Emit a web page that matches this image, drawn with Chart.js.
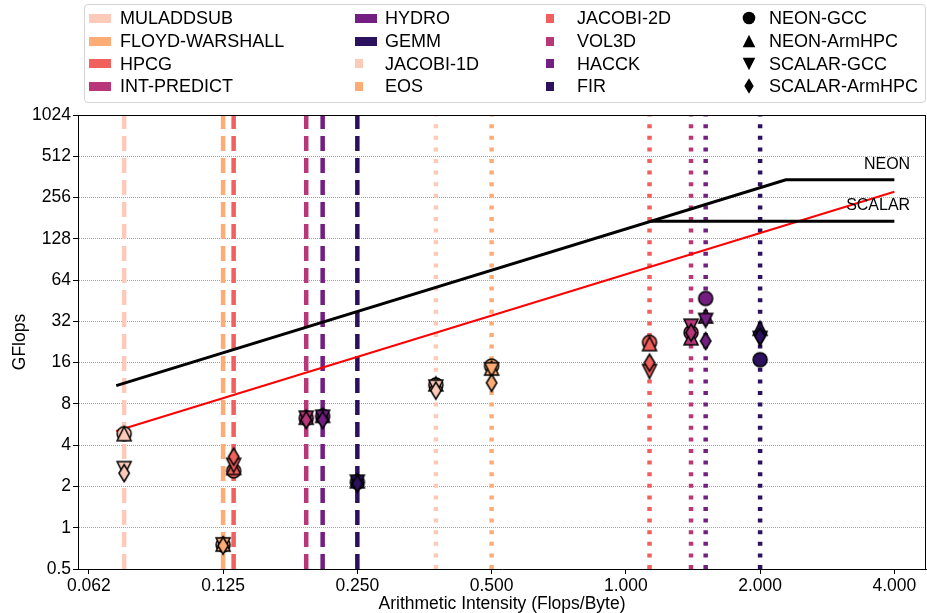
<!DOCTYPE html>
<html>
<head>
<meta charset="utf-8">
<script src="https://cdn.jsdelivr.net/npm/chart.js@4.4.1/dist/chart.umd.min.js"></script>
<style>
  body { margin: 0; background: #fff; }
  #wrap { position: relative; width: 927px; height: 613px; font-family: "Liberation Sans", Arial, Helvetica, sans-serif; }
  #legend { position: absolute; left: 84px; top: 4px; width: 842px; height: 99px; box-sizing: border-box;
            border: 1px solid #d4d4d4; border-radius: 4px; background: rgba(255,255,255,0.8); }
  .lg-text { position: absolute; font-size: 18px; line-height: 20px; height: 20px; white-space: nowrap; color: #000; }
  .lg-patch { position: absolute; }
  .lg-mark { position: absolute; }
</style>
</head>
<body>
<div id="wrap">
  <canvas id="roofline" width="927" height="613"></canvas>
  <div id="legend"></div>
</div>
<script>
// kernels, their arithmetic intensity (flops/byte) and colour
const kernels = ["MULADDSUB", "FLOYD-WARSHALL", "HPCG", "INT-PREDICT", "HYDRO", "GEMM",
                 "JACOBI-1D", "EOS", "JACOBI-2D", "VOL3D", "HACCK", "FIR"];
const intensity = [0.075, 0.125, 0.132, 0.192, 0.209, 0.25, 0.375, 0.5, 1.13, 1.4, 1.51, 2.0];
const kernelColors = ["#fccab8", "#feac76", "#f1605d", "#b73779", "#721f81", "#2c115f",
                      "#fccab8", "#feac76", "#f1605d", "#b73779", "#721f81", "#2c115f"];
const lineStyles = ["dashed", "dashed", "dashed", "dashed", "dashed", "dashed",
                    "dotted", "dotted", "dotted", "dotted", "dotted", "dotted"];

// measured GFlops per build
const variants = ["NEON-GCC", "NEON-ArmHPC", "SCALAR-GCC", "SCALAR-ArmHPC"];
const neonGcc   = [4.85, 0.75, 2.6, 6.3, 6.5, 2.15, 11.0, 15.1, 22.5, 26.5, 47, 16.8];
const neonArm   = [4.85, 0.76, 2.75, 6.4, 6.6, 2.2, 11.2, 14.6, 22, 24.3, 35, 28.5];
const scalarGcc = [2.7, 0.75, 2.85, 6.3, 6.4, 2.15, 10.6, 14.2, 13.8, 29.5, 32.5, 24];
const scalarArm = [2.5, 0.74, 3.3, 6.1, 6.1, 2.1, 10.0, 11.4, 16, 26.5, 23, 24.8];

// roofs: memory bandwidth (GB/s) and compute peak (GFlops)
const roofNames = ["NEON", "SCALAR"];
const roofBandwidth = [151, 70.5];
const roofPeak = [345, 172];
const aiStart = 0.072, aiEnd = 4;

const xTicks = [0.0625, 0.125, 0.25, 0.5, 1, 2, 4];
const xTickLabels = ["0.062", "0.125", "0.250", "0.500", "1.000", "2.000", "4.000"];
const yTicks = [0.5, 1, 2, 4, 8, 16, 32, 64, 128, 256, 512, 1024];
const yTickLabels = ["0.5", "1", "2", "4", "8", "16", "32", "64", "128", "256", "512", "1024"];

const FONT = '"Liberation Sans", Arial, Helvetica, sans-serif';
const shapes = ["circle", "up", "down", "diamond"];

function markerCanvas(shape, fill, s, edge) {
  const c = document.createElement("canvas");
  c.width = Math.ceil(22 * s); c.height = Math.ceil(24 * s);
  const g = c.getContext("2d");
  g.translate(c.width / 2, c.height / 2);
  g.beginPath();
  if (shape === "circle") {
    g.arc(0, 0, 7 * s, 0, Math.PI * 2);
  } else if (shape === "up") {
    g.moveTo(0, -7 * s); g.lineTo(7 * s, 7 * s); g.lineTo(-7 * s, 7 * s); g.closePath();
  } else if (shape === "down") {
    g.moveTo(0, 7 * s); g.lineTo(7 * s, -7 * s); g.lineTo(-7 * s, -7 * s); g.closePath();
  } else {
    g.moveTo(0, -8.5 * s); g.lineTo(5.2 * s, 0); g.lineTo(0, 8.5 * s); g.lineTo(-5.2 * s, 0); g.closePath();
  }
  g.fillStyle = fill;
  g.fill();
  if (edge) {
    g.lineWidth = 1.5;
    g.lineJoin = "miter";
    g.strokeStyle = "#000";
    g.stroke();
  }
  return c;
}

const datasets = [];

// marker datasets, diamonds drawn on top
const seriesValues = [neonGcc, neonArm, scalarGcc, scalarArm];
seriesValues.forEach((vals, v) => {
  datasets.push({
    label: variants[v],
    data: vals.map((y, i) => ({ x: intensity[i], y: y })),
    pointStyle: kernels.map((k, i) => markerCanvas(shapes[v], kernelColors[i], 1, true)),
    pointRadius: 7,
    showLine: false,
    order: 3 - v
  });
});

// rooflines
const ridge = roofPeak[0] / roofBandwidth[0];
datasets.push({
  label: "NEON roof",
  data: [{ x: aiStart, y: roofBandwidth[0] * aiStart }, { x: ridge, y: roofPeak[0] }, { x: aiEnd, y: roofPeak[0] }],
  showLine: true, borderColor: "#000", borderWidth: 3, pointRadius: 0, order: 4
});
datasets.push({
  label: "SCALAR peak",
  data: [{ x: roofPeak[1] / roofBandwidth[0], y: roofPeak[1] }, { x: aiEnd, y: roofPeak[1] }],
  showLine: true, borderColor: "#000", borderWidth: 3, pointRadius: 0, order: 4
});
datasets.push({
  label: "SCALAR bandwidth",
  data: [{ x: aiStart, y: roofBandwidth[1] * aiStart }, { x: aiEnd, y: roofBandwidth[1] * aiEnd }],
  showLine: true, borderColor: "#ff0000", borderWidth: 2, pointRadius: 0, order: 4
});

// one vertical line per kernel at its intensity
kernels.forEach((k, i) => {
  datasets.push({
    label: k,
    data: [{ x: intensity[i], y: yTicks[0] }, { x: intensity[i], y: yTicks[yTicks.length - 1] }],
    showLine: true,
    borderColor: kernelColors[i],
    borderWidth: 4.5,
    borderDash: lineStyles[i] === "dashed" ? [15, 7] : [4, 7.6],
    borderCapStyle: "butt",
    pointRadius: 0,
    order: 5
  });
});

const frame = {
  id: "frame",
  afterDatasetsDraw(chart) {
    const { ctx, chartArea: a, scales } = chart;
    ctx.save();
    ctx.strokeStyle = "#000";
    ctx.lineWidth = 1;
    ctx.beginPath();
    ctx.moveTo(a.left, Math.round(a.top) + 0.5);
    ctx.lineTo(a.right, Math.round(a.top) + 0.5);
    ctx.moveTo(Math.round(a.right) - 0.5, a.top);
    ctx.lineTo(Math.round(a.right) - 0.5, a.bottom);
    ctx.stroke();
    // roof names
    ctx.fillStyle = "#000";
    ctx.font = "16px " + FONT;
    ctx.textAlign = "right";
    ctx.textBaseline = "alphabetic";
    roofNames.forEach((name, r) => {
      ctx.fillText(name, scales.x.getPixelForValue(4.34), scales.y.getPixelForValue(roofPeak[r] * 1.2));
    });
    ctx.restore();
  }
};

new Chart(document.getElementById("roofline"), {
  type: "scatter",
  data: { datasets: datasets },
  options: {
    responsive: false,
    animation: false,
    layout: { autoPadding: false, padding: { top: 115, right: 1, bottom: 0, left: 0 } },
    plugins: { legend: { display: false }, tooltip: { enabled: false } },
    scales: {
      x: {
        type: "logarithmic",
        bounds: "data",
        min: 0.0591,
        max: 4.71,
        afterBuildTicks: (scale) => { scale.ticks = xTicks.map(v => ({ value: v })); },
        afterFit: (scale) => {
          scale.height = 44;
          scale.paddingLeft = 0;
          scale.paddingRight = 0;
        },
        ticks: {
          autoSkip: false, maxRotation: 0, padding: 2, color: "#000",
          font: { family: FONT, size: 17.5 },
          callback: (value, index) => xTickLabels[index]
        },
        grid: { drawOnChartArea: false, tickLength: 5, tickColor: "#000" },
        border: { color: "#000", width: 1 },
        title: {
          display: true, text: "Arithmetic Intensity (Flops/Byte)", color: "#000",
          font: { family: FONT, size: 17.5 }, padding: { top: 0, bottom: -2 }
        }
      },
      y: {
        type: "logarithmic",
        bounds: "data",
        min: 0.5,
        max: 1024,
        afterBuildTicks: (scale) => { scale.ticks = yTicks.map(v => ({ value: v })); },
        afterFit: (scale) => {
          scale.width = 78;
          scale.paddingTop = 0;
          scale.paddingBottom = 0;
        },
        ticks: {
          autoSkip: false, padding: 2, color: "#000",
          font: { family: FONT, size: 17.5 },
          callback: (value, index) => yTickLabels[index]
        },
        grid: { color: "rgba(0,0,0,0.45)", lineWidth: 0.8, tickLength: 5, tickColor: "#000", tickWidth: 1 },
        border: { color: "#000", width: 1, dash: [1, 1] },
        title: {
          display: true, text: "GFlops", color: "#000",
          font: { family: FONT, size: 17.5 }, padding: { top: 10, bottom: 0 }
        }
      }
    }
  },
  plugins: [frame]
});

// legend: kernels in three columns, builds in the fourth
const legend = document.getElementById("legend");
const rowY = [18, 41, 63.5, 86];
const colText = [120, 385, 577];
const colHandle = [89, 355, 546];
function place(el, x, y) {
  el.style.left = (x - 84 - 1) + "px";
  el.style.top = (y - 4 - 1) + "px";
  legend.appendChild(el);
}
kernels.forEach((k, i) => {
  const col = Math.floor(i / 4), row = i % 4;
  const patch = document.createElement("div");
  patch.className = "lg-patch";
  patch.style.background = kernelColors[i];
  patch.style.width = (lineStyles[i] === "dashed" ? 22 : 8) + "px";
  patch.style.height = "9px";
  place(patch, colHandle[col], rowY[row] - 4.5);
  const t = document.createElement("span");
  t.className = "lg-text";
  t.textContent = k;
  place(t, colText[col], rowY[row] - 10);
});
variants.forEach((name, v) => {
  const m = markerCanvas(shapes[v], "#000", 0.9, false);
  m.className = "lg-mark";
  place(m, 749 - m.width / 2, rowY[v] - m.height / 2);
  const t = document.createElement("span");
  t.className = "lg-text";
  t.textContent = name;
  place(t, 769, rowY[v] - 10);
});
</script>
</body>
</html>
